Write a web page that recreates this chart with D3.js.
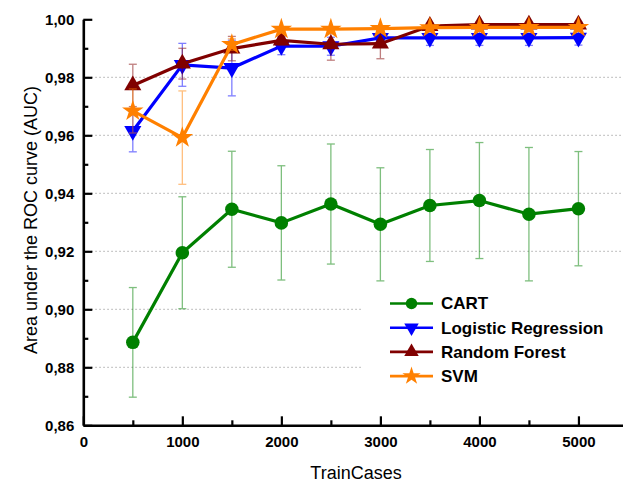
<!DOCTYPE html>
<head>
  <meta charset="utf-8">
  <style>
    body { margin: 0; background: #fff; }
    svg text { font-family: Arial, "Liberation Sans", sans-serif; }
    .tick text { font-size: 15px; font-weight: bold; fill: #000; }
    .grid line { stroke: #aaa; stroke-width: 1px; stroke-dasharray: 1.5,2.5; }
  </style>
</head>
<body>
<script src="https://d3js.org/d3.v7.min.js"></script>
<script>
  // training set sizes
  var trainCases = [500, 1000, 1500, 2000, 2500, 3000, 3500, 4000, 4500, 5000];

  // mean AUC and its spread for every classifier
  var cartAuc = [0.8886, 0.9195, 0.9345, 0.9298, 0.9363, 0.9293, 0.9358, 0.9375, 0.9328, 0.9347];
  var cartErr = [0.0189, 0.0193, 0.0200, 0.0197, 0.0207, 0.0195, 0.0193, 0.0200, 0.0230, 0.0197];
  var logregAuc = [0.9615, 0.9843, 0.9832, 0.9908, 0.9907, 0.9936, 0.9936, 0.9936, 0.9936, 0.9937];
  var logregErr = [0.0072, 0.0074, 0.0096, 0.0030, 0.0031, 0.0025, 0.0026, 0.0026, 0.0026, 0.0026];
  var forestAuc = [0.9772, 0.9847, 0.9899, 0.9927, 0.9914, 0.9916, 0.9977, 0.9982, 0.9982, 0.9982];
  var forestErr = [0.0073, 0.0053, 0.0042, 0.0015, 0.0055, 0.0052, 0.0010, 0.0008, 0.0008, 0.0008];
  var svmAuc = [0.9684, 0.9592, 0.9913, 0.9966, 0.9966, 0.9968, 0.9971, 0.9972, 0.9972, 0.9972];
  var svmErr = [0.0076, 0.0161, 0.0020, 0.0005, 0.0005, 0.0005, 0.0005, 0.0005, 0.0005, 0.0005];

  var seriesNames = ["CART", "Logistic Regression", "Random Forest", "SVM"];
  var yTicks = [0.86, 0.88, 0.90, 0.92, 0.94, 0.96, 0.98, 1.00];
  var xTicks = [0, 1000, 2000, 3000, 4000, 5000];

  var series = [
    { name: seriesNames[0], auc: cartAuc, err: cartErr, color: "#008000", symbol: "circle" },
    { name: seriesNames[1], auc: logregAuc, err: logregErr, color: "#0000ff", symbol: "down" },
    { name: seriesNames[2], auc: forestAuc, err: forestErr, color: "#800000", symbol: "up" },
    { name: seriesNames[3], auc: svmAuc, err: svmErr, color: "#ff8000", symbol: "star" }
  ];

  var W = 623, H = 483;
  var x = d3.scaleLinear().domain([0, 5450]).range([83.3, 623]);
  var y = d3.scaleLinear().domain([0.86, 1.00]).range([425.3, 19.3]);

  var svg = d3.select("body").append("svg")
      .attr("width", W)
      .attr("height", H);

  // dotted horizontal grid
  svg.append("g")
      .classed("grid", true)
    .selectAll("line")
    .data(yTicks.filter(function (d) { return d > 0.87 && d < 0.99; }))
    .enter().append("line")
      .attr("x1", x(0))
      .attr("x2", W)
      .attr("y1", function (d) { return y(d); })
      .attr("y2", function (d) { return y(d); });

  // marker shapes
  function marker(sel, symbol, size) {
    if (symbol === "circle") {
      sel.append("circle").attr("r", size * 0.52);
    } else if (symbol === "up") {
      sel.append("path").attr("d", d3.symbol().type(d3.symbolTriangle).size(size * size * 0.75)());
    } else if (symbol === "down") {
      sel.append("path").attr("d", d3.symbol().type(d3.symbolTriangle).size(size * size * 0.75)())
        .attr("transform", "rotate(180)");
    } else {
      sel.append("path").attr("d", d3.symbol().type(d3.symbolStar).size(size * size * 0.85)());
    }
  }

  var line = d3.line()
    .x(function (d) { return x(d[0]); })
    .y(function (d) { return y(d[1]); });

  series.forEach(function (s) {
    var pts = trainCases.map(function (t, i) { return [t, s.auc[i], s.err[i]]; });
    var g = svg.append("g");

    // error bars
    var eb = g.selectAll(".err").data(pts).enter().append("g")
        .attr("stroke", s.color)
        .attr("stroke-width", 1.3)
        .attr("opacity", 0.5);
    eb.append("line")
        .attr("x1", function (d) { return x(d[0]); })
        .attr("x2", function (d) { return x(d[0]); })
        .attr("y1", function (d) { return y(d[1] - d[2]); })
        .attr("y2", function (d) { return y(d[1] + d[2]); });
    [-1, 1].forEach(function (sign) {
      eb.append("line")
          .attr("x1", function (d) { return x(d[0]) - 4; })
          .attr("x2", function (d) { return x(d[0]) + 4; })
          .attr("y1", function (d) { return y(d[1] + sign * d[2]); })
          .attr("y2", function (d) { return y(d[1] + sign * d[2]); });
    });

    g.append("path")
        .attr("d", line(pts))
        .attr("fill", "none")
        .attr("stroke", s.color)
        .attr("stroke-width", 3.2);

    g.selectAll(".pt").data(pts).enter().append("g")
        .attr("transform", function (d) { return "translate(" + x(d[0]) + "," + y(d[1]) + ")"; })
        .attr("fill", s.color)
        .each(function () { marker(d3.select(this), s.symbol, 13); });
  });

  // axes, ticks pointing into the plot
  var xAxis = d3.axisBottom(x)
      .tickValues(d3.range(0, 5001, 500))
      .tickSize(-9)
      .tickSizeOuter(0)
      .tickFormat(function (d) { return xTicks.indexOf(d) >= 0 ? d : ""; });
  var xg = svg.append("g")
      .attr("transform", "translate(0," + y(0.86) + ")")
      .call(xAxis);
  xg.selectAll(".tick line")
      .attr("y2", function (d) { return d % 1000 === 0 ? -9 : -5; });

  var yAxis = d3.axisLeft(y)
      .tickValues(d3.range(0.86, 1.0001, 0.01))
      .tickSize(-9)
      .tickSizeOuter(0)
      .tickFormat(function (d) {
        var hit = yTicks.some(function (t) { return Math.abs(t - d) < 1e-6; });
        return hit ? d3.format(".2f")(d).replace(".", ",") : "";
      });
  var yg = svg.append("g")
      .attr("transform", "translate(" + x(0) + ",0)")
      .call(yAxis);
  yg.selectAll(".tick line")
      .attr("x2", function (d, i) { return i % 2 === 0 ? 9 : 5; });

  [xg, yg].forEach(function (a) {
    a.select(".domain").attr("stroke", "#000").attr("stroke-width", 2.6);
    a.selectAll(".tick line").attr("stroke", "#000").attr("stroke-width", 2.2);
  });
  xg.selectAll(".tick text").attr("dy", "0").attr("y", 22);
  yg.selectAll(".tick text").attr("x", -9);

  // axis titles
  svg.append("text")
      .attr("x", 356)
      .attr("y", 479)
      .attr("text-anchor", "middle")
      .style("font-size", "18px")
      .text("TrainCases");

  svg.append("text")
      .attr("transform", "translate(37,220) rotate(-90)")
      .attr("text-anchor", "middle")
      .style("font-size", "18px")
      .text("Area under the ROC curve (AUC)");

  // legend
  var legend = svg.append("g");
  legend.append("rect")
      .attr("x", 363).attr("y", 286)
      .attr("width", 258).attr("height", 106)
      .attr("fill", "#fff");
  var rows = legend.selectAll(".row").data(series).enter().append("g")
      .attr("transform", function (d, i) { return "translate(390," + (303.5 + i * 24.2) + ")"; });
  rows.append("line")
      .attr("x1", 0).attr("x2", 43)
      .attr("stroke", function (d) { return d.color; })
      .attr("stroke-width", 2.6);
  rows.append("g")
      .attr("transform", "translate(21.5,0)")
      .attr("fill", function (d) { return d.color; })
      .each(function (d) { marker(d3.select(this), d.symbol, 11); });
  rows.append("text")
      .attr("x", 51)
      .attr("dy", "0.35em")
      .style("font-size", "17px")
      .style("font-weight", "bold")
      .text(function (d) { return d.name; });
</script>
</body>
</html>
